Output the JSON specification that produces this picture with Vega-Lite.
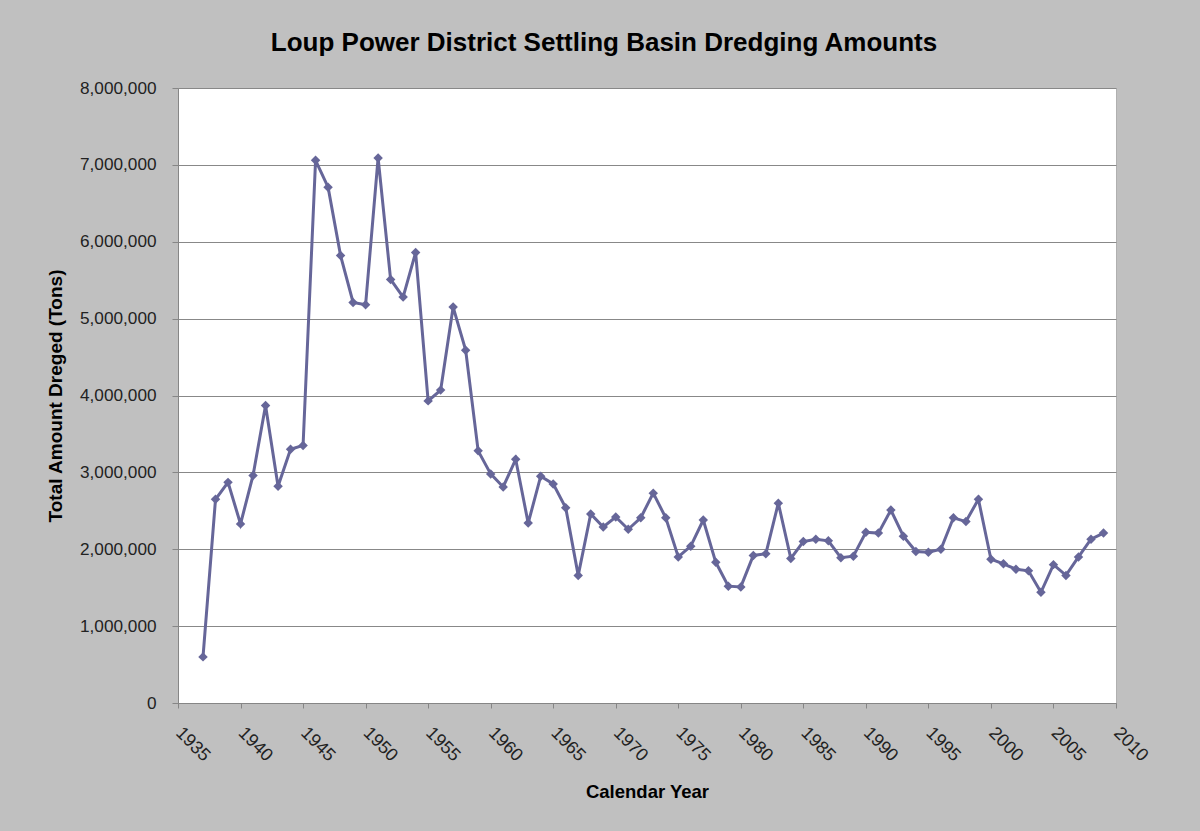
{
  "$schema": "https://vega.github.io/schema/vega-lite/v6.json",
  "autosize": {"type": "none"},
  "padding": {"left": 178, "top": 88, "right": 84, "bottom": 128},
  "width": 938,
  "height": 615,
  "background": "#c0c0c0",
  "title": {
    "text": "Loup Power District Settling Basin Dredging Amounts",
    "font": "Liberation Sans",
    "fontSize": 26,
    "fontWeight": "bold",
    "color": "#000000",
    "anchor": "middle",
    "dx": -43,
    "baseline": "alphabetic",
    "offset": 2
  },
  "config": {
    "view": {"fill": "#ffffff", "stroke": "#b0b0b0"},
    "axis": {
      "labelFont": "Liberation Sans",
      "titleFont": "Liberation Sans",
      "labelColor": "#222222",
      "titleColor": "#000000",
      "domainColor": "#868686",
      "tickColor": "#868686",
      "gridColor": "#888888",
      "gridWidth": 1
    }
  },
  "data": {
    "values": [
      {"year": 1937, "tons": 600000},
      {"year": 1938, "tons": 2650000},
      {"year": 1939, "tons": 2870000},
      {"year": 1940, "tons": 2330000},
      {"year": 1941, "tons": 2960000},
      {"year": 1942, "tons": 3870000},
      {"year": 1943, "tons": 2820000},
      {"year": 1944, "tons": 3300000},
      {"year": 1945, "tons": 3350000},
      {"year": 1946, "tons": 7060000},
      {"year": 1947, "tons": 6710000},
      {"year": 1948, "tons": 5820000},
      {"year": 1949, "tons": 5210000},
      {"year": 1950, "tons": 5180000},
      {"year": 1951, "tons": 7090000},
      {"year": 1952, "tons": 5510000},
      {"year": 1953, "tons": 5280000},
      {"year": 1954, "tons": 5860000},
      {"year": 1955, "tons": 3930000},
      {"year": 1956, "tons": 4070000},
      {"year": 1957, "tons": 5150000},
      {"year": 1958, "tons": 4590000},
      {"year": 1959, "tons": 3280000},
      {"year": 1960, "tons": 2980000},
      {"year": 1961, "tons": 2810000},
      {"year": 1962, "tons": 3170000},
      {"year": 1963, "tons": 2340000},
      {"year": 1964, "tons": 2950000},
      {"year": 1965, "tons": 2850000},
      {"year": 1966, "tons": 2540000},
      {"year": 1967, "tons": 1660000},
      {"year": 1968, "tons": 2460000},
      {"year": 1969, "tons": 2290000},
      {"year": 1970, "tons": 2420000},
      {"year": 1971, "tons": 2260000},
      {"year": 1972, "tons": 2410000},
      {"year": 1973, "tons": 2730000},
      {"year": 1974, "tons": 2410000},
      {"year": 1975, "tons": 1900000},
      {"year": 1976, "tons": 2040000},
      {"year": 1977, "tons": 2380000},
      {"year": 1978, "tons": 1830000},
      {"year": 1979, "tons": 1520000},
      {"year": 1980, "tons": 1510000},
      {"year": 1981, "tons": 1920000},
      {"year": 1982, "tons": 1940000},
      {"year": 1983, "tons": 2600000},
      {"year": 1984, "tons": 1880000},
      {"year": 1985, "tons": 2100000},
      {"year": 1986, "tons": 2130000},
      {"year": 1987, "tons": 2110000},
      {"year": 1988, "tons": 1890000},
      {"year": 1989, "tons": 1910000},
      {"year": 1990, "tons": 2220000},
      {"year": 1991, "tons": 2210000},
      {"year": 1992, "tons": 2510000},
      {"year": 1993, "tons": 2170000},
      {"year": 1994, "tons": 1970000},
      {"year": 1995, "tons": 1960000},
      {"year": 1996, "tons": 2000000},
      {"year": 1997, "tons": 2410000},
      {"year": 1998, "tons": 2360000},
      {"year": 1999, "tons": 2650000},
      {"year": 2000, "tons": 1870000},
      {"year": 2001, "tons": 1810000},
      {"year": 2002, "tons": 1740000},
      {"year": 2003, "tons": 1720000},
      {"year": 2004, "tons": 1440000},
      {"year": 2005, "tons": 1800000},
      {"year": 2006, "tons": 1660000},
      {"year": 2007, "tons": 1900000},
      {"year": 2008, "tons": 2130000},
      {"year": 2009, "tons": 2210000}
    ]
  },
  "encoding": {
    "x": {
      "field": "year",
      "type": "quantitative",
      "scale": {"domain": [1935, 2010], "nice": false, "zero": false},
      "axis": {
        "title": "Calendar Year",
        "values": [1935, 1940, 1945, 1950, 1955, 1960, 1965, 1970, 1975, 1980, 1985, 1990, 1995, 2000, 2005, 2010],
        "format": "d",
        "grid": false,
        "labelAngle": 45,
        "labelAlign": "left",
        "labelBaseline": "middle",
        "labelFontSize": 18,
        "labelPadding": 22,
        "labelDx": -4,
        "tickSize": 5,
        "labelOverlap": false,
        "labelFlush": false,
        "titleFontSize": 18.5,
        "titleFontWeight": "bold",
        "titleY": 94,
        "titleBaseline": "alphabetic"
      }
    },
    "y": {
      "field": "tons",
      "type": "quantitative",
      "scale": {"domain": [0, 8000000], "nice": false},
      "axis": {
        "title": "Total Amount Dreged (Tons)",
        "values": [0, 1000000, 2000000, 3000000, 4000000, 5000000, 6000000, 7000000, 8000000],
        "format": ",d",
        "grid": true,
        "labelFontSize": 17.2,
        "labelPadding": 16,
        "tickSize": 6,
        "labelFlush": false,
        "labelOverlap": false,
        "titleFontSize": 19,
        "titleFontWeight": "bold",
        "titleX": -123,
        "titleY": 307.5,
        "titleAngle": -90,
        "titleAlign": "center",
        "titleBaseline": "middle"
      }
    }
  },
  "layer": [
    {"mark": {"type": "line", "color": "#666699", "strokeWidth": 3}},
    {"mark": {"type": "point", "shape": "diamond", "filled": true, "size": 90, "color": "#666699", "opacity": 1}}
  ]
}
